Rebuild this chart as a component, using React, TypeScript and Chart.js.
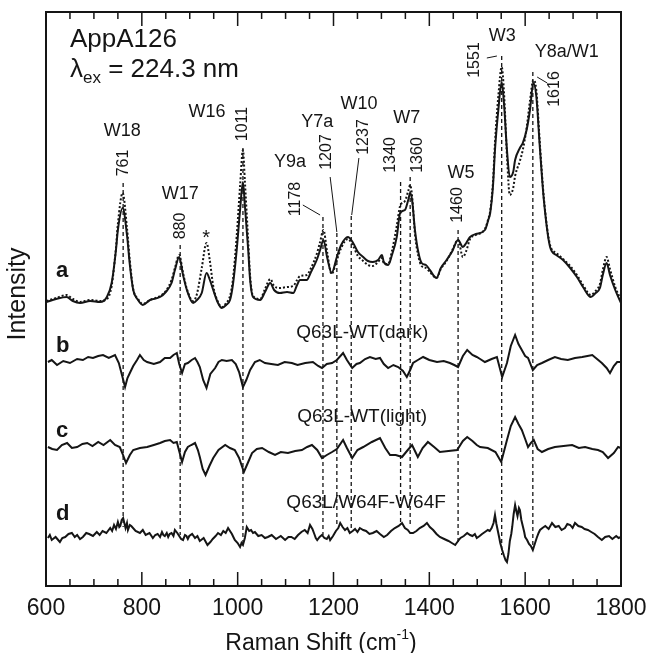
import { useEffect, useRef } from "react";
import { Chart, registerables } from "chart.js";

Chart.register(...registerables);

const INK = "#151515";
const FONT = '"Liberation Sans", Arial, Helvetica, sans-serif';

const X_MIN = 600;
const X_MAX = 1800;
const Y_MIN = 0;
const Y_MAX = 574;
const MAJOR_TICKS = [600, 800, 1000, 1200, 1400, 1600, 1800];
const MINOR_TICKS = [650, 700, 750, 850, 900, 950, 1050, 1100, 1150, 1250, 1300, 1350, 1450, 1500, 1550, 1650, 1700, 1750];

// Trace a (AppA126, solid and dotted)
const aShift = [601,621,643,656,671,692,713,727,737,746,750,760,769,775,782,792,802,817,838,850,862,869,878,886,894,907,915,925,935,942,949,959,967,976,984,990,998,1005,1011,1015,1022,1026,1032,1047,1057,1068,1076,1088,1103,1116,1124,1130,1144,1153,1165,1172,1179,1187,1196,1207,1216,1230,1241,1251,1262,1272,1282,1293,1301,1305,1314,1322,1332,1339,1349,1356,1360,1364,1370,1377,1384,1393,1401,1415,1424,1436,1447,1460,1470,1477,1485,1497,1516,1523,1527,1533,1537,1544,1551,1556,1562,1568,1575,1579,1589,1595,1603,1610,1617,1623,1631,1639,1652,1665,1679,1694,1708,1722,1737,1747,1756,1762,1770,1777,1788,1800];
const aSolid = [284,287,289,285,283,285,284,289,303,336,356,378,351,321,296,286,281,286,289,294,303,316,329,311,296,283,286,293,313,306,296,283,278,281,286,301,336,376,404,381,336,306,289,286,294,303,296,293,294,293,301,306,306,314,326,336,346,328,313,329,341,349,343,334,329,325,324,326,331,324,321,331,349,373,376,386,393,386,356,334,323,321,316,308,318,326,334,346,339,343,349,352,356,366,373,401,436,476,504,481,436,409,414,426,438,443,456,476,503,491,436,386,339,331,326,318,309,298,289,293,298,311,323,311,296,283];
const aDotted = [285,288,291,287,284,286,285,287,300,338,362,393,358,325,297,287,282,286,290,295,306,318,331,313,297,285,292,318,343,325,300,284,279,283,290,306,350,400,436,405,345,310,290,287,297,307,300,298,299,300,306,310,311,318,332,344,356,333,312,326,338,347,340,330,325,321,320,324,328,323,322,335,360,380,385,395,401,390,352,330,320,318,314,308,317,325,335,346,329,335,347,351,357,367,375,405,443,490,519,492,430,391,398,410,425,436,458,485,506,497,440,388,341,333,327,320,311,300,291,295,302,316,329,317,299,286];

// Trace b: Q63L-WT (dark)
const bShift = [604,612,623,636,650,665,677,688,698,709,719,731,744,752,758,765,770,775,782,790,796,804,811,825,838,848,859,866,873,878,884,890,896,904,911,916,921,928,935,943,953,960,967,977,988,996,1003,1011,1018,1026,1036,1046,1057,1070,1084,1098,1113,1125,1141,1157,1168,1176,1186,1197,1207,1220,1228,1239,1248,1255,1266,1276,1288,1297,1305,1314,1325,1335,1345,1353,1360,1366,1376,1387,1400,1416,1430,1443,1452,1460,1470,1479,1490,1499,1506,1516,1530,1541,1552,1562,1570,1579,1586,1593,1600,1606,1616,1625,1635,1648,1662,1675,1689,1704,1719,1730,1740,1750,1760,1770,1777,1785,1792,1800];
const bVal = [224,226,221,225,223,227,226,229,228,230,231,228,231,223,212,199,208,213,220,226,231,226,224,222,224,228,228,231,233,222,213,222,223,226,228,224,219,206,198,212,218,224,226,225,226,222,214,199,206,216,224,226,223,222,221,224,223,221,223,224,220,218,222,223,226,233,226,218,222,223,227,229,227,228,222,218,221,219,215,209,216,223,226,229,226,224,225,223,221,219,230,236,231,229,227,224,227,229,209,223,240,251,242,236,230,228,216,221,223,226,229,227,226,228,229,230,231,227,223,218,213,220,224,224];

// Trace c: Q63L-WT (light)
const cShift = [604,613,623,633,644,654,665,676,686,697,709,720,734,744,754,760,767,775,782,796,811,825,838,848,859,866,873,879,884,890,896,903,911,917,921,927,933,941,949,960,974,984,994,1003,1013,1022,1030,1040,1051,1065,1078,1090,1105,1120,1134,1145,1155,1166,1176,1186,1197,1207,1220,1228,1239,1250,1262,1280,1297,1308,1318,1330,1343,1355,1364,1370,1376,1386,1397,1410,1422,1440,1458,1470,1479,1490,1499,1506,1522,1538,1550,1556,1562,1570,1579,1586,1593,1600,1606,1612,1618,1626,1635,1648,1662,1680,1698,1712,1725,1740,1752,1762,1773,1785,1794,1800];
const cVal = [139,137,136,141,143,138,139,142,143,140,144,141,146,141,139,132,123,131,136,138,139,141,143,145,146,143,144,133,124,134,139,141,143,136,129,117,111,120,128,136,141,138,136,128,114,124,133,137,138,134,131,134,133,135,136,139,141,136,128,131,134,137,146,138,128,136,139,144,148,138,131,131,129,136,141,135,129,138,144,139,134,135,136,145,149,145,141,139,138,134,124,135,146,160,169,162,156,147,139,143,146,137,134,137,139,140,141,138,139,137,136,134,128,133,139,138];

// Trace d: Q63L/W64F-W64F
const dShift = [
  604,608,612,620,629,634,640,647,654,660,
  665,671,677,684,690,698,706,712,718,726,
  734,738,742,746,750,753,755,758,761,764,
  766,769,771,775,778,787,796,802,808,816,
  823,828,833,838,842,845,848,852,855,858,
  862,866,869,874,878,882,886,890,893,896,
  899,905,911,916,921,929,937,943,948,954,
  959,965,970,975,980,984,988,991,994,1000,
  1005,1008,1011,1015,1019,1024,1028,1032,1036,1043,
  1050,1057,1063,1071,1080,1090,1099,1106,1112,1119,
  1126,1133,1140,1146,1151,1156,1160,1163,1166,1171,
  1176,1181,1186,1190,1193,1199,1205,1210,1214,1219,
  1224,1229,1234,1240,1245,1250,1255,1262,1268,1275,
  1282,1290,1297,1305,1312,1320,1328,1336,1343,1349,
  1355,1360,1366,1373,1380,1388,1395,1401,1408,1415,
  1422,1431,1440,1447,1454,1460,1465,1472,1479,1485,
  1490,1495,1499,1505,1510,1516,1522,1526,1530,1534,
  1537,1540,1543,1546,1548,1552,1556,1559,1562,1565,
  1568,1571,1573,1576,1579,1582,1584,1587,1589,1592,
  1595,1598,1600,1604,1608,1612,1616,1620,1624,1628,
  1631,1636,1642,1649,1656,1663,1670,1676,1683,1688,
  1694,1699,1704,1711,1718,1724,1731,1738,1745,1752,
  1760,1767,1775,1782,1790,1795,1800,
];
const dVal = [
  48,51,46,49,44,48,49,52,53,49,
  51,47,49,53,52,50,54,51,55,53,
  58,55,61,57,64,59,60,66,68,62,
  58,63,56,61,60,55,53,56,51,53,
  48,51,52,49,54,51,50,53,49,52,
  53,50,56,53,50,47,46,51,50,47,
  50,52,48,50,45,48,41,44,47,50,
  53,51,55,53,58,55,52,49,46,43,
  39,43,41,48,59,55,56,53,54,50,
  51,48,49,51,47,50,46,49,49,47,
  51,54,56,53,61,57,52,48,46,49,
  51,48,47,50,46,50,55,58,63,59,
  56,58,53,55,57,54,58,56,55,52,
  53,55,52,49,51,55,58,60,63,58,
  56,53,53,55,58,60,63,59,56,52,
  49,47,45,43,41,45,48,50,53,51,
  50,52,48,50,52,54,56,55,58,63,
  71,62,55,48,43,36,30,26,24,32,
  45,52,59,72,81,74,70,78,76,66,
  60,54,49,46,42,40,36,42,48,53,
  56,58,60,57,63,59,60,56,58,62,
  61,58,63,60,59,57,56,54,52,49,
  46,49,50,47,50,48,49,
];

// Marked bands (dashed guides)
const PEAKS = [761, 880, 1011, 1178, 1207, 1237, 1340, 1360, 1460, 1551, 1616];
const PEAK_TOP = [403, 341, 438, 369, 353, 370, 404, 409, 356, 530, 514];
const PEAK_BOTTOM = [59, 51, 41, 51, 59, 58, 63, 61, 43, 31, 38];
const PEAK_LABEL_X = [761, 880, 1011, 1120, 1186, 1262, 1320, 1376, 1460, 1495, 1662];
const PEAK_LABEL_Y = [423, 360, 462, 387, 434, 449, 431, 431, 381, 526, 497];

const LEADER_X1 = [1136, 1193, 1253, 1520, 1625];
const LEADER_Y1 = [381, 409, 428, 528, 509];
const LEADER_X2 = [1172, 1207, 1238, 1541, 1646];
const LEADER_Y2 = [371, 354, 371, 530, 503];

const MODE_NAMES = ["W18", "W17", "W16", "Y9a", "Y7a", "W10", "W7", "W5", "W3", "Y8a/W1"];
const MODE_X = [759, 880, 936, 1109, 1166, 1253, 1353, 1466, 1552, 1687];
const MODE_Y = [455, 392, 474, 424, 464, 482, 468, 413, 550, 534];

const TRACE_TAGS = ["a", "b", "c", "d"];
const TAG_X = 621;
const TAG_Y = [309, 234, 149, 66];

const DIFF_LABELS = ["Q63L-WT(dark)", "Q63L-WT(light)", "Q63L/W64F-W64F"];
const DIFF_X = [1260, 1260, 1268];
const DIFF_Y = [253, 169, 83];

const STAR_X = 934;
const STAR_Y = 348;

const zip = (xs: number[], ys: number[]) => xs.map((x, i) => ({ x, y: ys[i] }));

const overlay = {
  id: "overlay",
  beforeDatasetsDraw(chart: any) {
    const { ctx, scales } = chart;
    const x = scales.x;
    const y = scales.y;
    ctx.save();
    ctx.strokeStyle = INK;
    ctx.lineWidth = 1.3;
    ctx.setLineDash([4, 3]);
    PEAKS.forEach((p, i) => {
      const px = x.getPixelForValue(p);
      ctx.beginPath();
      ctx.moveTo(px, y.getPixelForValue(PEAK_TOP[i]));
      ctx.lineTo(px, y.getPixelForValue(PEAK_BOTTOM[i]));
      ctx.stroke();
    });
    ctx.setLineDash([]);
    ctx.lineWidth = 1;
    LEADER_X1.forEach((lx, i) => {
      ctx.beginPath();
      ctx.moveTo(x.getPixelForValue(lx), y.getPixelForValue(LEADER_Y1[i]));
      ctx.lineTo(x.getPixelForValue(LEADER_X2[i]), y.getPixelForValue(LEADER_Y2[i]));
      ctx.stroke();
    });
    ctx.restore();
  },
  afterDraw(chart: any) {
    const { ctx, chartArea: a, scales } = chart;
    const x = scales.x;
    const y = scales.y;
    ctx.save();
    ctx.fillStyle = INK;
    ctx.strokeStyle = INK;

    // frame
    ctx.lineWidth = 2;
    ctx.strokeRect(a.left, a.top, a.right - a.left, a.bottom - a.top);

    // inward ticks top and bottom
    ctx.lineWidth = 1.5;
    const tick = (v: number, len: number) => {
      const px = x.getPixelForValue(v);
      ctx.beginPath();
      ctx.moveTo(px, a.bottom);
      ctx.lineTo(px, a.bottom - len);
      ctx.moveTo(px, a.top);
      ctx.lineTo(px, a.top + len);
      ctx.stroke();
    };
    MAJOR_TICKS.forEach((v) => tick(v, 14));
    MINOR_TICKS.forEach((v) => tick(v, 7));

    // tick labels
    ctx.font = `23px ${FONT}`;
    ctx.textAlign = "center";
    ctx.textBaseline = "middle";
    MAJOR_TICKS.forEach((v) => ctx.fillText(String(v), x.getPixelForValue(v), a.bottom + 23));

    // x title with superscript
    const t1 = "Raman Shift (cm";
    const t2 = "-1";
    const t3 = ")";
    ctx.textBaseline = "alphabetic";
    ctx.textAlign = "left";
    ctx.font = `23px ${FONT}`;
    const w1 = ctx.measureText(t1).width;
    const w3 = ctx.measureText(t3).width;
    ctx.font = `14px ${FONT}`;
    const w2 = ctx.measureText(t2).width;
    const cx = 321;
    let sx = cx - (w1 + w2 + w3) / 2;
    const base = a.bottom + 64;
    ctx.font = `23px ${FONT}`;
    ctx.fillText(t1, sx, base);
    sx += w1;
    ctx.font = `14px ${FONT}`;
    ctx.fillText(t2, sx, base - 11);
    sx += w2;
    ctx.font = `23px ${FONT}`;
    ctx.fillText(t3, sx, base);

    // y title
    ctx.save();
    ctx.translate(18, 294);
    ctx.rotate(-Math.PI / 2);
    ctx.textAlign = "center";
    ctx.textBaseline = "middle";
    ctx.font = `25px ${FONT}`;
    ctx.fillText("Intensity", 0, 0);
    ctx.restore();

    // title block
    const tx = x.getPixelForValue(650);
    ctx.textAlign = "left";
    ctx.textBaseline = "alphabetic";
    ctx.font = `26px ${FONT}`;
    ctx.fillText("AppA126", tx, y.getPixelForValue(539));
    const by = y.getPixelForValue(509);
    let lx = tx;
    ctx.fillText("\u03bb", lx, by);
    lx += ctx.measureText("\u03bb").width;
    ctx.font = `17px ${FONT}`;
    ctx.fillText("ex", lx, by + 6);
    lx += ctx.measureText("ex").width;
    ctx.font = `26px ${FONT}`;
    ctx.fillText(" = 224.3 nm", lx, by);

    // mode names
    ctx.textAlign = "center";
    ctx.textBaseline = "middle";
    ctx.font = `18px ${FONT}`;
    MODE_NAMES.forEach((s, i) => ctx.fillText(s, x.getPixelForValue(MODE_X[i]), y.getPixelForValue(MODE_Y[i])));

    // star
    ctx.font = `20px ${FONT}`;
    ctx.fillText("*", x.getPixelForValue(STAR_X), y.getPixelForValue(STAR_Y));

    // rotated peak positions
    ctx.font = `16px ${FONT}`;
    PEAKS.forEach((p, i) => {
      ctx.save();
      ctx.translate(x.getPixelForValue(PEAK_LABEL_X[i]), y.getPixelForValue(PEAK_LABEL_Y[i]));
      ctx.rotate(-Math.PI / 2);
      ctx.fillText(String(p), 0, 0);
      ctx.restore();
    });

    // difference labels
    ctx.font = `19px ${FONT}`;
    DIFF_LABELS.forEach((s, i) => ctx.fillText(s, x.getPixelForValue(DIFF_X[i]), y.getPixelForValue(DIFF_Y[i])));

    // trace tags
    ctx.textAlign = "left";
    ctx.textBaseline = "alphabetic";
    ctx.font = `bold 22px ${FONT}`;
    TRACE_TAGS.forEach((s, i) => ctx.fillText(s, x.getPixelForValue(TAG_X), y.getPixelForValue(TAG_Y[i])));

    ctx.restore();
  },
};

export default function App() {
  const ref = useRef<HTMLCanvasElement>(null);
  useEffect(() => {
    if (!ref.current) return;
    const line = (data: { x: number; y: number }[], dash: number[], smooth: boolean) => ({
      data,
      borderColor: INK,
      borderWidth: 2,
      borderDash: dash,
      pointRadius: 0,
      fill: false,
      tension: 0,
      cubicInterpolationMode: smooth ? ("monotone" as const) : ("default" as const),
    });
    const chart = new Chart(ref.current, {
      type: "line",
      data: {
        datasets: [
          line(zip(aShift, aSolid), [], true),
          line(zip(aShift, aDotted), [2, 2], true),
          line(zip(bShift, bVal), [], false),
          line(zip(cShift, cVal), [], false),
          line(zip(dShift, dVal), [], false),
        ],
      },
      options: {
        responsive: false,
        animation: false,
        layout: { padding: { left: 46, top: 12, right: 29, bottom: 67 } },
        scales: {
          x: { type: "linear", min: X_MIN, max: X_MAX, display: false },
          y: { type: "linear", min: Y_MIN, max: Y_MAX, display: false },
        },
        plugins: { legend: { display: false }, tooltip: { enabled: false } },
      },
      plugins: [overlay],
    });
    return () => chart.destroy();
  }, []);
  return (
    <canvas
      ref={ref}
      width={650}
      height={653}
      style={{ position: "fixed", left: 0, top: 0, width: 650, height: 653, background: "#fff" }}
    />
  );
}
